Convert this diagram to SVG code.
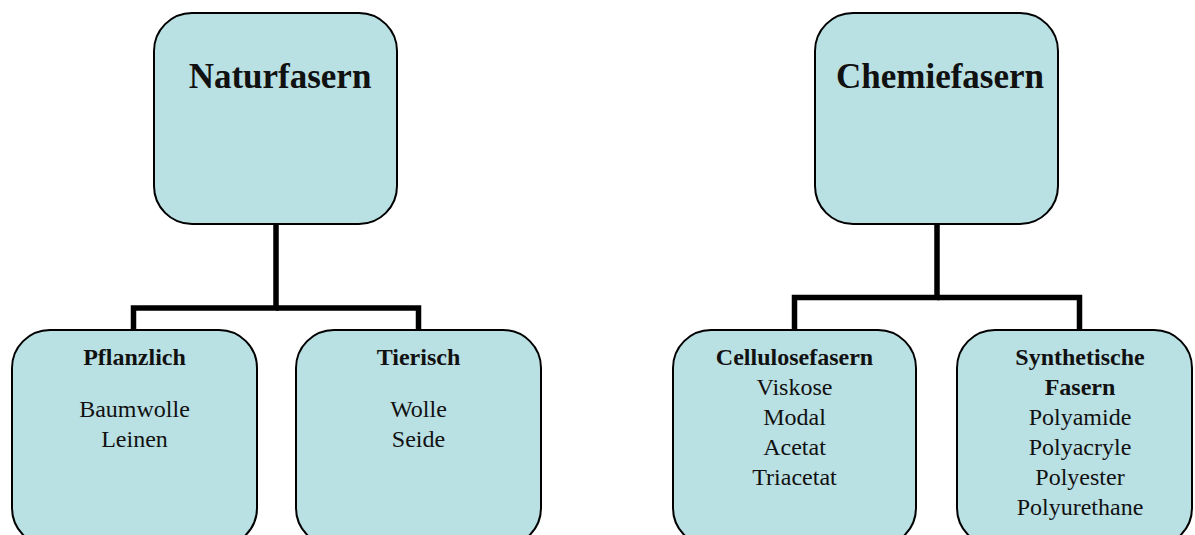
<svg xmlns="http://www.w3.org/2000/svg" width="1195" height="535" viewBox="0 0 1195 535">
<style>
.box{fill:#b9e0e3;stroke:#000;stroke-width:2}
.conn{fill:none;stroke:#000;stroke-width:5.5;stroke-linejoin:miter}
text{font-family:"Liberation Serif","Times New Roman",serif;fill:#111;text-anchor:middle}
.big{font-size:35px;font-weight:bold}
.h{font-size:24px;font-weight:bold}
.t{font-size:24px}
</style>
<rect width="1195" height="535" fill="#fff"/>
<g id="connectors">
<polyline class="conn" points="276,224 276,308 133.5,308 133.5,331"/>
<polyline class="conn" points="276,308 418.5,308 418.5,331"/>
<polyline class="conn" points="937,224 937,297.5 794.5,297.5 794.5,331"/>
<polyline class="conn" points="937,297.5 1079.5,297.5 1079.5,331"/>
</g>
<g id="naturfasern">
<rect class="box" x="154" y="13" width="243" height="211" rx="38"/>
<text class="big" x="280" y="88">Naturfasern</text>
</g>
<g id="chemiefasern">
<rect class="box" x="815" y="13" width="243" height="211" rx="38"/>
<text class="big" x="940" y="88">Chemiefasern</text>
</g>
<g id="pflanzlich">
<rect class="box" x="12" y="330" width="245" height="216" rx="38"/>
<text class="h" x="134.5" y="365">Pflanzlich</text>
<text class="t" x="134.5" y="417">Baumwolle</text>
<text class="t" x="134.5" y="447">Leinen</text>
</g>
<g id="tierisch">
<rect class="box" x="296" y="330" width="245" height="216" rx="38"/>
<text class="h" x="418.5" y="365">Tierisch</text>
<text class="t" x="418.5" y="417">Wolle</text>
<text class="t" x="418.5" y="447">Seide</text>
</g>
<g id="cellulosefasern">
<rect class="box" x="673" y="330" width="243" height="216" rx="38"/>
<text class="h" x="794.5" y="365">Cellulosefasern</text>
<text class="t" x="794.5" y="395">Viskose</text>
<text class="t" x="794.5" y="425">Modal</text>
<text class="t" x="794.5" y="455">Acetat</text>
<text class="t" x="794.5" y="485">Triacetat</text>
</g>
<g id="synthetische">
<rect class="box" x="957" y="330" width="235" height="216" rx="38"/>
<text class="h" x="1080" y="365">Synthetische</text>
<text class="h" x="1080" y="395">Fasern</text>
<text class="t" x="1080" y="425">Polyamide</text>
<text class="t" x="1080" y="455">Polyacryle</text>
<text class="t" x="1080" y="485">Polyester</text>
<text class="t" x="1080" y="515">Polyurethane</text>
</g>
</svg>
